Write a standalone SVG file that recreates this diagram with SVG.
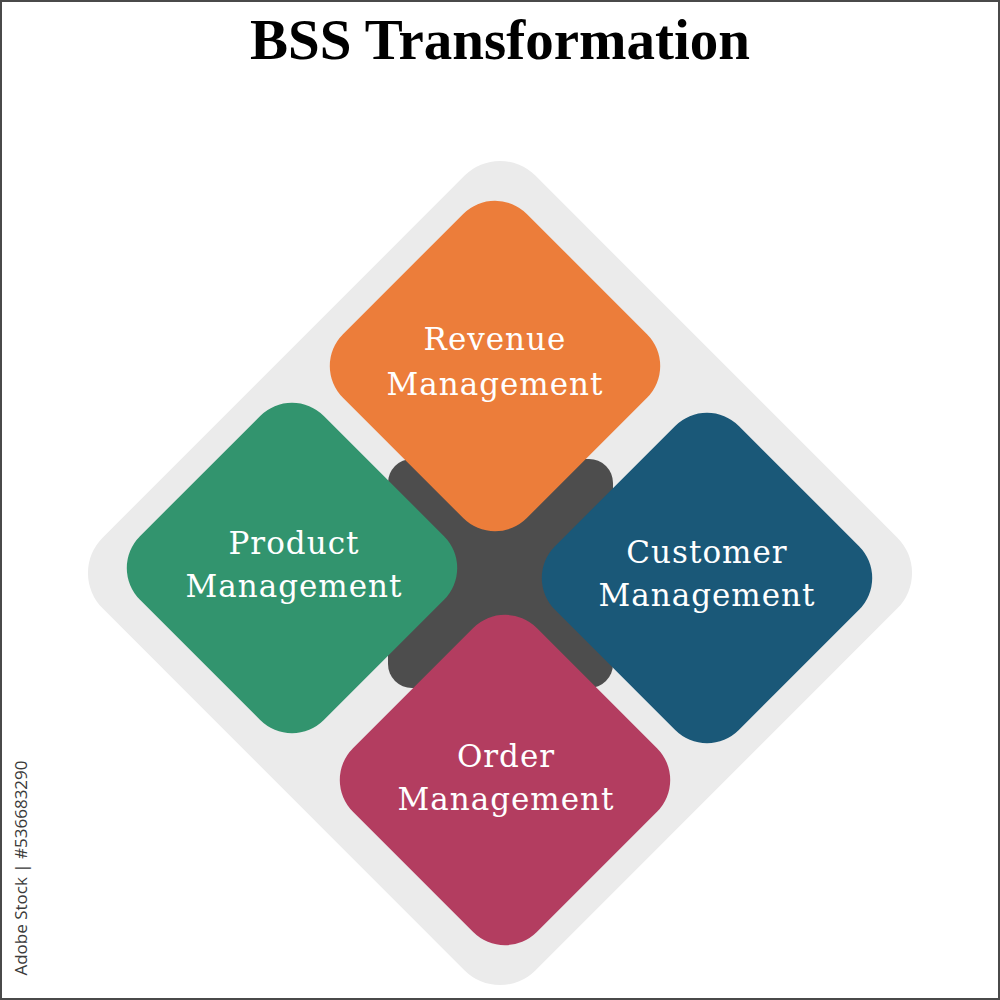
<svg xmlns="http://www.w3.org/2000/svg" width="1000" height="1000" viewBox="0 0 1000 1000">
  <style>
    .lbl { font-family: "DejaVu Serif", "Liberation Serif", serif; font-size: 31px; fill: #ffffff; text-anchor: middle; letter-spacing: 1px; }
    .title { font-family: "Liberation Serif", "DejaVu Serif", serif; font-size: 57px; font-weight: bold; fill: #000000; text-anchor: middle; }
    .credit { font-family: "Open Sans", "DejaVu Sans", sans-serif; font-size: 17px; fill: #3a3a3a; text-anchor: middle; }
  </style>
  <defs>
    <rect id="tile" x="-130" y="-130" width="260" height="260" rx="45" ry="45"/>
  </defs>
  <rect x="0" y="0" width="1000" height="1000" fill="#ffffff"/>
  <rect x="1" y="1" width="998" height="998" fill="none" stroke="#4a4a4a" stroke-width="2"/>

  <text class="title" x="500" y="59">BSS Transformation</text>

  <g id="background">
    <rect x="-306" y="-306" width="612" height="612" rx="50" ry="50" fill="#ebebeb" transform="translate(500 573) rotate(45)"/>
    <rect x="388" y="459" width="225" height="229" rx="24" ry="24" fill="#4d4d4d"/>
  </g>

  <g id="connectors"></g>

  <g id="node-revenue">
    <use href="#tile" fill="#ec7d3a" transform="translate(495 366) rotate(45)"/>
    <text class="lbl" x="495" y="350">Revenue</text>
    <text class="lbl" x="495" y="395">Management</text>
  </g>

  <g id="node-product">
    <use href="#tile" fill="#32946e" transform="translate(292 568) rotate(45)"/>
    <text class="lbl" x="294" y="554">Product</text>
    <text class="lbl" x="294" y="597">Management</text>
  </g>

  <g id="node-customer">
    <use href="#tile" fill="#1a5878" transform="translate(707 578) rotate(45)"/>
    <text class="lbl" x="707" y="563">Customer</text>
    <text class="lbl" x="707" y="606">Management</text>
  </g>

  <g id="node-order">
    <use href="#tile" fill="#b33d60" transform="translate(505 780) rotate(45)"/>
    <text class="lbl" x="506" y="767">Order</text>
    <text class="lbl" x="506" y="810">Management</text>
  </g>

  <text class="credit" transform="translate(27 868) rotate(-90)">Adobe Stock | #536683290</text>
</svg>
